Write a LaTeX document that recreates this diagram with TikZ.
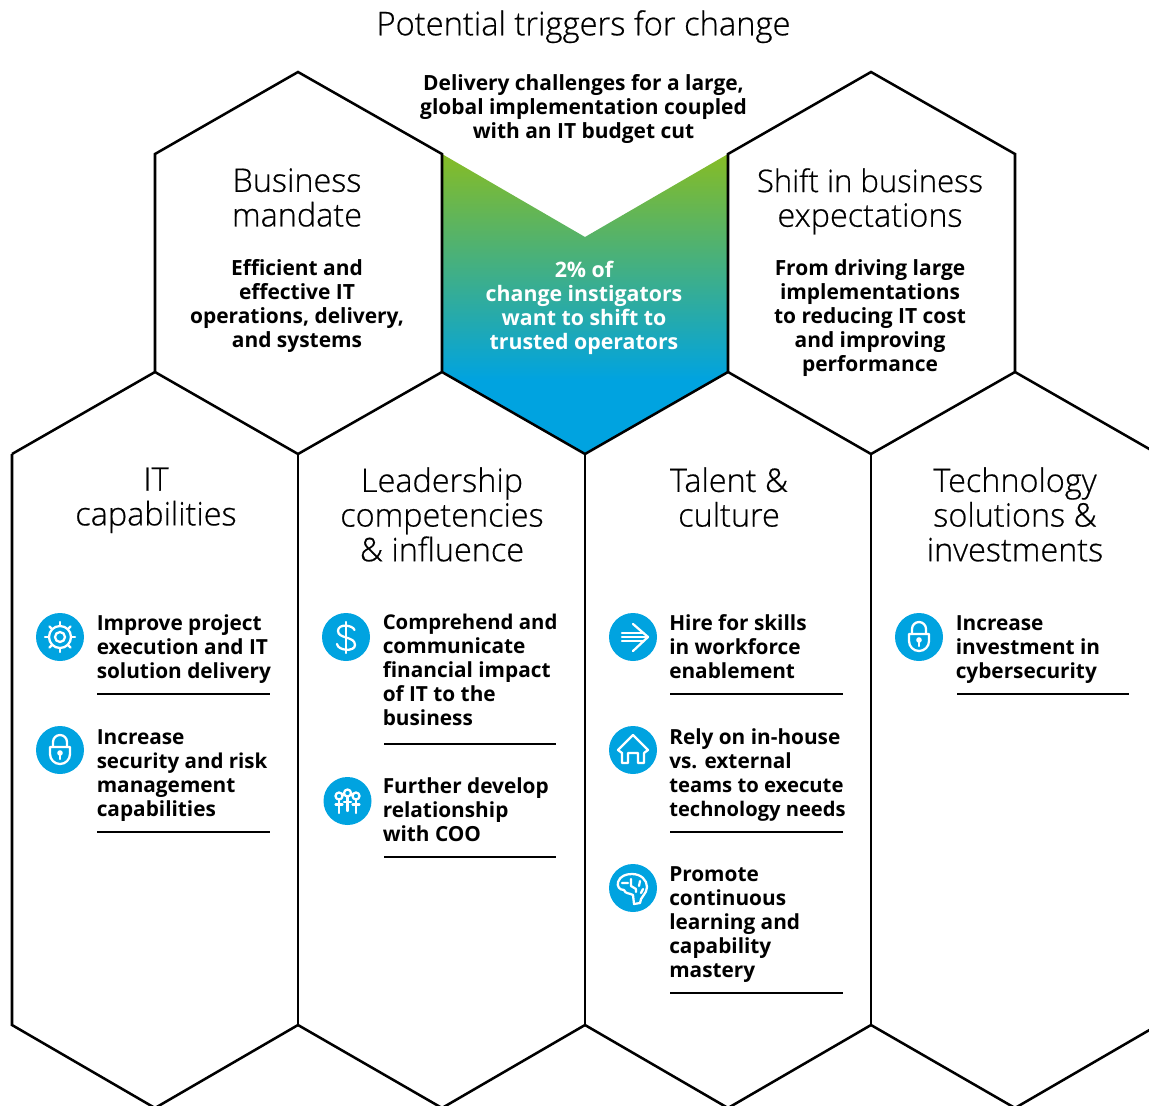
\documentclass[tikz,border=0pt]{standalone}
\usepackage{fontspec}
\setmainfont{Open Sans}
\newfontfamily\lightfont[FakeBold=0.6]{Open Sans Light}
\definecolor{iconblue}{HTML}{00A3E0}
\definecolor{hexgreen}{HTML}{86BC25}
\pgfdeclareverticalshading{greenblue}{100bp}{color(0bp)=(iconblue); color(37.3bp)=(iconblue); color(75bp)=(hexgreen); color(100bp)=(hexgreen)}
\newcommand{\tightline}[2]{{\fontsize{#1}{18}\selectfont #2}}
\tikzset{
  hexline/.style={draw=black,line width=1.9pt,line join=miter},
  rule/.style={draw=black,line width=1.9pt},
  head/.style={inner sep=0pt,anchor=north,align=center,font=\lightfont\fontsize{24.3}{26}\selectfont},
  centretext/.style={inner sep=0pt,anchor=north,align=center,font=\bfseries\fontsize{15.7}{18}\selectfont},
  itemtext/.style={inner sep=0pt,anchor=north west,align=left,font=\bfseries\fontsize{15.6}{18}\selectfont},
  iconline/.style={draw=white,line width=1.7pt,line cap=round,line join=round},
  disc/.style={fill=iconblue,draw=none},
  pics/gear/.style={code={
    \fill[disc] (0,0) circle (24);
    \draw[iconline] (0,0) circle (5) (0,0) circle (11);
    \foreach \a in {0,45,...,315}{\draw[iconline] (\a:11) -- (\a:15);}
  }},
  pics/lock/.style={code={
    \fill[disc] (0,0) circle (24);
    \draw[iconline] (-7,-3) -- (-7,-8) arc[start angle=180,end angle=360,radius=7] -- (7,-3);
    \draw[iconline] (-10,-3) -- (10,-3) -- (10,4) arc[start angle=0,end angle=180,radius=10] -- cycle;
    \fill[white] (0,3) circle (2.8);
    \draw[iconline] (0,3) -- (0,9);
  }},
  pics/dollar/.style={code={
    \fill[disc] (0,0) circle (24);
    \draw[iconline] (8.5,-7) .. controls (7,-12) and (-8,-14) .. (-8,-6) .. controls (-8,2) and (9,-1) .. (9,8) .. controls (9,15) and (-8,14) .. (-9,7);
    \draw[iconline] (0,-15) -- (0,16);
  }},
  pics/people/.style={code={
    \fill[disc] (0,0) circle (24);
    \draw[iconline] (-8.5,-5) circle (3.5) (0,-8) circle (3.5) (8.5,-5) circle (3.5);
    \draw[iconline] (-8.5,-1.5) -- (-8.5,12) (0,-4.5) -- (0,10) (8.5,-1.5) -- (8.5,12);
    \draw[iconline] (-12,3.5) -- (-5,3.5) (-3.5,1) -- (3.5,1) (5,3.5) -- (12,3.5);
  }},
  pics/arrowsign/.style={code={
    \fill[disc] (0,0) circle (24);
    \draw[iconline] (0,-13) -- (15,0) -- (0,14);
    \draw[iconline] (-11,-4.3) -- (10,-4.3) (-11,0) -- (14,0) (-11,4.3) -- (10,4.3);
  }},
  pics/house/.style={code={
    \fill[disc] (0,0) circle (24);
    \draw[iconline] (-15,0) -- (0,-15) -- (15,0) -- (11,3) -- (11,13) -- (5,13) -- (5,3) -- (-5,3) -- (-5,13) -- (-11,13) -- (-11,3) -- cycle;
  }},
  pics/brain/.style={code={
    \fill[disc] (0,0) circle (24);
    \draw[iconline] (1,16) -- (0,7) .. controls (-3,5) and (-8,6) .. (-9,2) .. controls (-14,2) and (-16,-2) .. (-15,-6) .. controls (-13,-12) and (-7,-14) .. (-1,-14) .. controls (8,-14) and (14,-8) .. (14,-1) .. controls (14,6) and (7,9) .. (7,15) -- cycle;
    \draw[iconline] (-11,-5) -- (-5,-5) (-2,-9) -- (-2,-2) -- (3,1) -- (3,4) (7,-7) -- (6,-2) (10,1) -- (8,5);
  }},
}
\begin{document}
\begin{tikzpicture}[x=0.75pt,y=-0.75pt]
\useasboundingbox (0,0) rectangle (1149,1106);
\clip (0,0) rectangle (1149,1106);
% centre gradient hexagon
\shade[shading=greenblue] (442,154) -- (585,237) -- (728,154) -- (728,372) -- (585,454) -- (442,372) -- cycle;
% upper hexagons
\draw[hexline] (442,372) -- (442,154) -- (298,72) -- (155,154) -- (155,372);
\draw[hexline] (728,372) -- (728,154) -- (871,72) -- (1015,154) -- (1015,372);
% lower row zig-zag and walls
\draw[hexline] (12,454) -- (155,372) -- (298,454) -- (442,372) -- (585,454) -- (728,372) -- (871,454) -- (1015,372) -- (1158,454);
\draw[hexline] (12,454) -- (12,1025) -- (155,1108) -- (298,1025) -- (442,1108) -- (585,1025) -- (728,1108) -- (871,1025) -- (1015,1108) -- (1158,1025);
\draw[hexline] (298,454) -- (298,1025) (585,454) -- (585,1025) (871,454) -- (871,1025);
% title and top texts
\node[inner sep=0pt,anchor=north,font=\lightfont\fontsize{24.5}{26}\selectfont] (title) at (583.5,10) {Potential triggers for change};
\node[centretext] (delivery) at (583.5,74) {Delivery challenges for a large,\\global implementation coupled\\with an IT budget cut};
\node[head] (mandate) at (297,168) {Business\\mandate};
\node[centretext] (mandatetext) at (297,259) {Efficient and\\effective IT\\operations, delivery,\\and systems};
\node[head] (shift) at (870,168) {{\fontsize{23.3}{26}\selectfont Shift in business}\\expectations};
\node[centretext] (shifttext) at (870,259) {From driving large\\implementations\\to reducing IT cost\\and improving\\performance};
\node[centretext,font=\bfseries\fontsize{16}{18}\selectfont,text=white] (instigators) at (584,261) {2\% of\\change instigators\\want to shift to\\trusted operators};
% column heads
\node[head] (itcap) at (156,467.3) {IT\\capabilities};
\node[head] (leader) at (442,467) {Leadership\\competencies\\\& influence};
\node[head] (talent) at (729,467) {Talent \&\\culture};
\node[head] (tech) at (1015,467) {Technology\\solutions \&\\investments};
% column 1
\pic at (60,637) {gear};
\node[itemtext] (a1) at (96.5,614) {Improve project\\execution and IT\\solution delivery};
\draw[rule] (97,694) -- (270,694);
\pic at (60,750) {lock};
\node[itemtext] (a2) at (96.5,729) {Increase\\\tightline{15.4}{security and risk}\\management\\capabilities};
\draw[rule] (97,832) -- (270,832);
% column 2
\pic at (346,637) {dollar};
\node[itemtext] (b1) at (382.5,614) {\tightline{15.25}{Comprehend and}\\communicate\\financial impact\\of IT to the\\business};
\draw[rule] (384,744) -- (556,744);
\pic at (347.5,801) {people};
\node[itemtext] (b2) at (382.5,777) {Further develop\\relationship\\with COO};
\draw[rule] (384,857) -- (556,857);
% column 3
\pic at (633,637) {arrowsign};
\node[itemtext] (c1) at (669,614) {Hire for skills\\in workforce\\enablement};
\draw[rule] (670,694) -- (843,694);
\pic at (633,750) {house};
\node[itemtext] (c2) at (669,728) {Rely on in-house\\vs. external\\\tightline{15.2}{teams to execute}\\\tightline{15.1}{technology needs}};
\draw[rule] (670,832) -- (843,832);
\pic at (633,888) {brain};
\node[itemtext] (c3) at (669,866) {Promote\\continuous\\learning and\\capability\\mastery};
\draw[rule] (670,993) -- (843,993);
% column 4
\pic at (919,637) {lock};
\node[itemtext] (d1) at (955.5,615) {Increase\\investment in\\cybersecurity};
\draw[rule] (957,694) -- (1129,694);
\end{tikzpicture}
\end{document}
